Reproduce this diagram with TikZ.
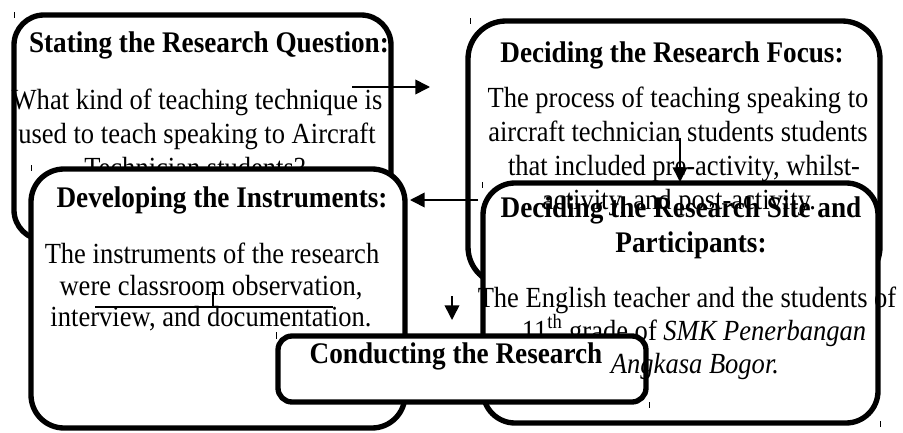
\documentclass[tikz,border=0pt]{standalone}
\usepackage{fontspec}
\usepackage{graphicx}
\setmainfont{Liberation Serif}
\usetikzlibrary{arrows.meta}
% text in this chart is set slightly taller than wide
\newcommand{\vtxt}[1]{\scalebox{1}[1.1]{#1}}
\begin{document}
\begin{tikzpicture}[x=0.75pt,y=-0.75pt,
  boxfill/.style={rectangle, fill=white, draw=none, inner sep=0pt, outer sep=0pt},
  boxline/.style={draw=black, line width=4pt},
  txt/.style={anchor=base, inner sep=0pt, font=\fontsize{19.9pt}{24pt}\selectfont},
  ttl/.style={anchor=base, inner sep=0pt, font=\fontsize{20.4pt}{24pt}\selectfont\bfseries},
  flow/.style={line width=1.2pt, -{Triangle[length=11pt,width=11pt]}},
  thinline/.style={line width=1.2pt},
  tickmark/.style={line width=0.6pt}
]
\useasboundingbox (0,0) rectangle (903,432);

% --- Stating the research question
\node[boxfill, rounded corners=22.5pt, minimum width=282.75pt, minimum height=168.75pt] (b1) at (202.5,127.5) {};
\node[ttl] (t1) at (209,52) {\vtxt{Stating the Research Question:}};
\node[txt] (q1) at (197,109) {\vtxt{What kind of teaching technique is}};
\node[txt] (q2) at (197,143) {\vtxt{used to teach speaking to Aircraft}};
\node[txt] (q3) at (195,177) {\vtxt{Technician students?}};
\draw[boxline, rounded corners=22.5pt] (b1.north west) rectangle (b1.south east);

% --- Developing the instruments
\node[boxfill, rounded corners=24.75pt, minimum width=280.5pt, minimum height=194.25pt] (b3) at (218,298.5) {};
\node[ttl] (t3) at (222,207) {\vtxt{Developing the Instruments:}};
\node[txt] (i1) at (212,263) {\vtxt{The instruments of the research}};
\node[txt] (i2) at (211,295) {\vtxt{were classroom observation,}};
\node[txt] (i3) at (211,326) {\vtxt{interview, and documentation.}};
\draw[boxline, rounded corners=24.75pt] (b3.north west) rectangle (b3.south east);

% --- Deciding the research focus
\node[boxfill, rounded corners=28.5pt, minimum width=309pt, minimum height=198pt] (b2) at (674,153) {};
\draw[boxline, rounded corners=28.5pt] (b2.north west) rectangle (b2.south east);

% --- Deciding the research site and participants (fill only)
\node[boxfill, rounded corners=24pt, minimum width=296.25pt, minimum height=180pt] (b4) at (680.5,303) {};

\node[ttl] (t2) at (672,62) {\vtxt{Deciding the Research Focus:}};
\node[txt] (f1) at (678,107) {\vtxt{The process of teaching speaking to}};
\node[txt] (f2) at (678,141) {\vtxt{aircraft technician students students}};
\node[txt] (f3) at (684,175) {\vtxt{that included pre-activity, whilst-}};
\node[txt] (f4) at (679,209) {\vtxt{activity, and post-activity.}};

\node[ttl] (t4a) at (681,217) {\vtxt{Deciding the Research Site and}};
\node[ttl] (t4b) at (691,252) {\vtxt{Participants:}};
\node[txt] (s1) at (687,307) {\vtxt{The English teacher and the students of}};
\node[txt] (s2) at (694,340) {\vtxt{11\textsuperscript{th} grade of \textit{SMK Penerbangan}}};
\draw[boxline, rounded corners=24pt] (b4.north west) rectangle (b4.south east);

% --- Conducting the research
\node[boxfill, rounded corners=10.5pt, minimum width=276pt, minimum height=49.5pt] (b5) at (462,369) {};
\node[txt] (s3) at (695,373) {\vtxt{\textit{Angkasa Bogor.}}};
\draw[boxline, rounded corners=10.5pt] (b5.north west) rectangle (b5.south east);
\node[ttl] (t5) at (456,363) {\vtxt{Conducting the Research}};

% --- connectors
\coordinate (a1s) at (352,87);  \coordinate (a1e) at (430,87);
\coordinate (a2s) at (478,200); \coordinate (a2e) at (410,200);
\coordinate (a3s) at (680,138); \coordinate (a3e) at (680,182);
\coordinate (a4s) at (452,296); \coordinate (a4e) at (452,320);
\draw[flow] (a1s) -- (a1e);
\draw[flow] (a2s) -- (a2e);
\draw[flow] (a3s) -- (a3e);
\draw[flow] (a4s) -- (a4e);

% --- bracket under the instruments
\coordinate (k1) at (95,307);  \coordinate (k2) at (333,307);
\coordinate (k3) at (213,292); \coordinate (k4) at (213,307);
\draw[thinline] (k1) -- (k2);
\draw[thinline] (k3) -- (k4);

% --- anchor ticks
\foreach \x/\ya/\yb in {14/12/18, 31/165/171, 470/18/24, 482/182/188, 276/332/339, 649/402/408, 880/421/427}
  \draw[tickmark] (\x,\ya) -- (\x,\yb);
\end{tikzpicture}
\end{document}
